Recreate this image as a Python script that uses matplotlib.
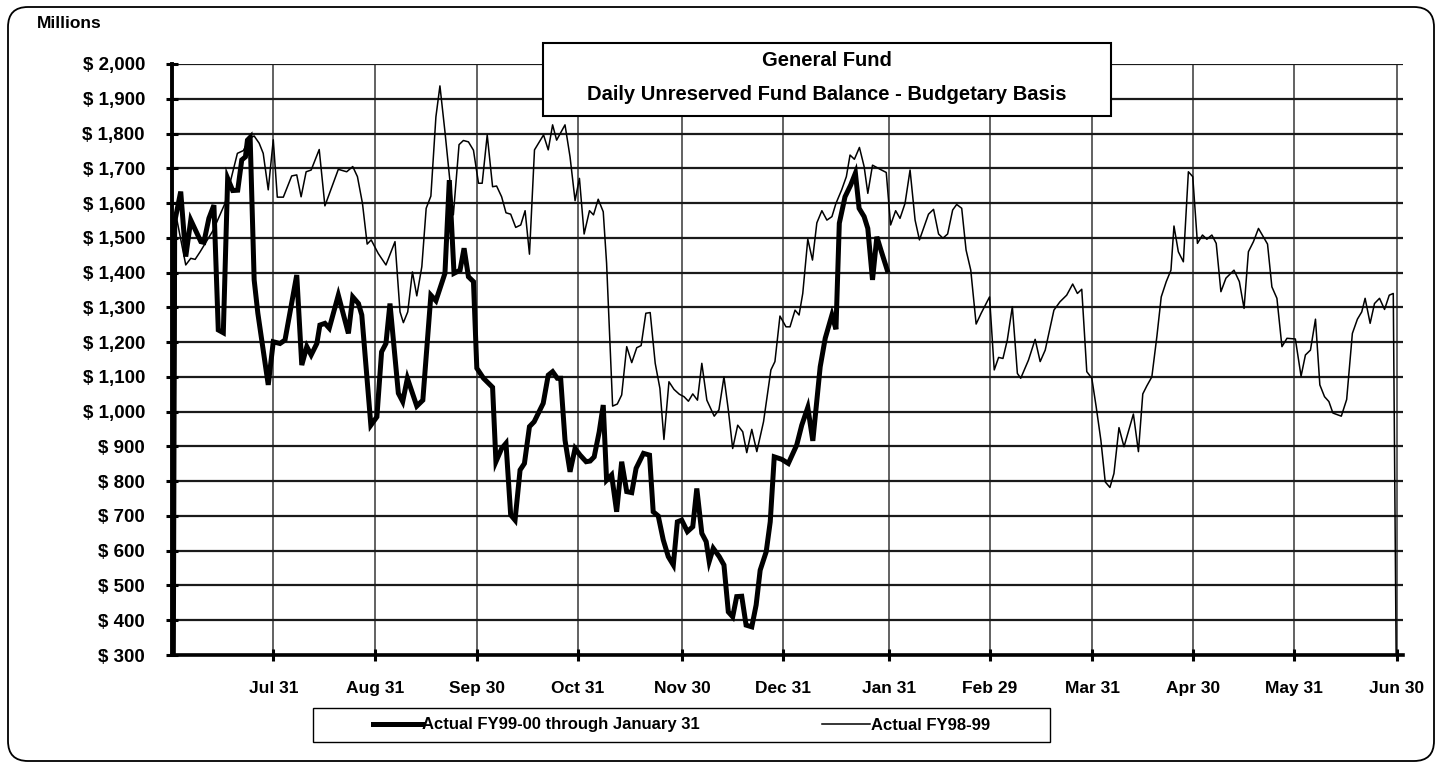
import matplotlib
matplotlib.use("Agg")
import matplotlib.pyplot as plt
from matplotlib.patches import FancyBboxPatch, Rectangle
from matplotlib.transforms import IdentityTransform

plt.rcParams['font.family'] = ['Liberation Sans Narrow', 'Liberation Sans', 'DejaVu Sans']
plt.rcParams['font.weight'] = 'bold'

# days since Jul 1 and balance in $ millions
fy00_days = [0.0, 0.5, 2.3, 3.8, 5.3, 8.3, 9.2, 10.7, 12.2, 13.5, 15.0, 16.3, 17.8, 19.3,
             20.5, 21.6, 22.2, 23.0, 24.2, 25.3, 28.4, 29.9, 31.9, 33.4, 36.9, 38.4, 39.9,
             41.2, 42.9, 43.8, 45.3, 46.6, 49.3, 52.3, 53.6, 55.3, 56.3, 59.0, 60.8, 62.2,
             63.5, 64.7, 67.2, 68.5, 69.9, 72.7, 74.5, 76.9, 78.4, 81.1, 82.4, 83.8, 85.6,
             86.8, 88.1, 89.6, 90.6, 92.6, 95.3, 96.3, 98.0, 99.3, 100.7, 102.0, 103.5,
             104.8, 106.3, 107.7, 110.4, 111.9, 113.2, 114.6, 115.6, 116.9, 118.4, 119.9,
             121.4, 123.2, 124.4, 125.6, 127.1, 128.3, 129.3, 130.8, 132.3, 133.8, 135.3,
             136.8, 138.1, 140.3, 142.1, 143.2, 144.7, 146.2, 147.7, 149.2, 150.4, 151.7,
             153.4, 155.0, 156.2, 157.7, 159.0, 159.9, 161.1, 162.9, 164.3, 165.6, 166.9,
             168.1, 169.6, 170.9, 172.6, 173.9, 175.1, 176.9, 178.1, 179.3, 181.5, 183.5,
             186.0, 187.5, 189.3, 190.8, 193.0, 194.5, 196.5, 197.7, 198.7, 200.4, 202.1,
             203.5, 204.6, 206.1, 207.2, 208.6, 209.9, 211.1, 213.0]
fy00_values = [0, 1546, 1633, 1446, 1551, 1489, 1487, 1556, 1594, 1235, 1227, 1671, 1636, 1637,
               1724, 1733, 1781, 1789, 1379, 1283, 1077, 1201, 1196, 1206, 1393, 1134, 1187,
               1163, 1196, 1249, 1254, 1240, 1335, 1225, 1330, 1311, 1278, 961, 985, 1172,
               1196, 1311, 1053, 1029, 1096, 1016, 1033, 1335, 1319, 1398, 1666, 1398, 1407,
               1470, 1388, 1374, 1125, 1096, 1070, 856, 894, 909, 703, 688, 832,
               851, 957, 971, 1024, 1105, 1115, 1096, 1096, 918, 827, 894,
               875, 856, 858, 870, 942, 1019, 803, 818, 712, 856, 770,
               767, 837, 880, 875, 712, 700, 631, 583, 559, 683, 688,
               655, 669, 779, 650, 626, 569, 607, 583, 559, 424, 410,
               468, 469, 386, 381, 444, 544, 597, 683, 870, 863, 851,
               904, 961, 1012, 916, 1129, 1211, 1278, 1237, 1542, 1618, 1652,
               1686, 1585, 1561, 1527, 1379, 1503, 1465, 1407]

fy99_days = [0.0, 1.0, 3.8, 5.3, 6.6, 8.1, 12.0, 15.5, 19.2, 21.0, 22.8, 24.2, 25.7, 26.9,
             28.4, 29.9, 31.1, 32.9, 35.4, 36.9, 38.2, 39.7, 41.2, 43.6, 45.3, 49.3, 51.8,
             53.6, 55.0, 56.5, 57.9, 59.1, 61.2, 63.5, 66.2, 67.7, 68.7, 70.0, 71.4, 72.7,
             74.2, 75.5, 76.9, 78.4, 79.6, 81.1, 83.6, 85.3, 86.6, 88.1, 89.6, 91.1, 92.2,
             93.7, 95.3, 96.5, 98.0, 99.3, 100.7, 102.2, 103.7, 105.0, 106.3, 107.8, 110.5,
             111.9, 113.2, 114.4, 116.9, 118.4, 119.9, 121.2, 122.6, 124.2, 125.4, 126.8,
             128.3, 129.3, 131.1, 132.5, 133.8, 135.3, 136.8, 138.3, 139.6, 141.0, 142.3,
             143.8, 145.2, 146.4, 147.9, 149.4, 151.0, 152.4, 153.7, 155.0, 156.4, 157.7,
             159.2, 161.4, 162.8, 164.3, 165.6, 166.9, 168.4, 169.9, 171.1, 172.6, 174.1,
             176.1, 178.3, 179.5, 181.0, 182.8, 184.0, 185.5, 186.7, 187.8, 189.3, 190.7,
             192.0, 193.5, 195.0, 196.5, 197.7, 199.4, 200.8, 201.9, 203.2, 204.7, 206.1,
             207.2, 208.6, 210.9, 212.7, 214.0, 215.5, 216.8, 218.3, 219.8, 221.3, 222.6,
             224.0, 225.3, 226.8, 228.3, 229.6, 231.0, 232.5, 233.7, 235.2, 236.5, 237.9,
             239.5, 241.0, 243.5, 244.9, 246.2, 247.5, 248.8, 250.3, 251.8, 252.8, 255.1,
             257.1, 258.6, 260.1, 261.6, 262.7, 264.5, 266.5, 268.3, 269.7, 271.0, 272.5,
             274.0, 275.3, 276.7, 278.0, 279.4, 280.6, 282.1, 283.6, 286.4, 287.9, 289.2,
             290.4, 291.9, 293.4, 294.7, 296.2, 297.6, 298.5, 299.8, 301.3, 302.8, 304.1,
             305.5, 307.0, 308.3, 309.8, 311.1, 312.5, 314.0, 316.4, 318.0, 319.4, 320.7,
             322.2, 323.7, 326.4, 327.7, 329.2, 330.7, 332.2, 334.7, 336.4, 337.7, 339.2,
             340.7, 342.0, 343.4, 344.7, 345.9, 348.4, 350.0, 351.7, 353.2, 354.5, 355.5,
             357.0, 358.3, 359.8, 361.3, 362.7, 363.9, 365.0]
fy99_values = [0, 1560, 1422, 1441, 1438, 1460, 1522, 1599, 1743, 1751, 1786, 1793, 1772, 1743,
               1638, 1782, 1617, 1617, 1678, 1681, 1618, 1690, 1695, 1754, 1592, 1697, 1690,
               1705, 1676, 1599, 1482, 1494, 1455, 1422, 1489, 1287, 1256, 1287, 1402, 1333,
               1417, 1585, 1620, 1848, 1937, 1805, 1566, 1768, 1780, 1776, 1752, 1657, 1657,
               1796, 1647, 1649, 1618, 1572, 1568, 1530, 1537, 1578, 1453, 1753, 1796,
               1753, 1825, 1781, 1825, 1733, 1607, 1671, 1511, 1578, 1566, 1611,
               1575, 1427, 1016, 1022, 1048, 1187, 1141, 1184, 1190, 1283, 1285,
               1139, 1067, 920, 1086, 1064, 1050, 1043, 1030, 1051, 1033, 1139,
               1033, 987, 1005, 1100, 1005, 894, 961, 942, 882, 949, 885,
               971, 1120, 1144, 1275, 1244, 1244, 1292, 1278, 1340, 1496, 1436,
               1543, 1578, 1551, 1561, 1599, 1638, 1676, 1738, 1726, 1760, 1705,
               1628, 1709, 1697, 1688, 1537, 1578, 1556, 1599, 1695, 1551, 1494,
               1532, 1568, 1582, 1511, 1499, 1511, 1580, 1596, 1585, 1465, 1407,
               1252, 1283, 1330, 1120, 1156, 1153, 1206, 1302, 1110, 1096, 1148,
               1208, 1144, 1177, 1244, 1292, 1316, 1335, 1367, 1340, 1352, 1115,
               1096, 1014, 918, 798, 782, 822, 954, 899, 993, 885, 1051,
               1074, 1100, 1216, 1330, 1374, 1407, 1534, 1460, 1431, 1690, 1676,
               1484, 1508, 1496, 1508, 1484, 1345, 1384, 1407, 1374, 1297, 1460,
               1489, 1527, 1482, 1359, 1326, 1187, 1211, 1209, 1102, 1163, 1177,
               1266, 1077, 1043, 1029, 996, 987, 1035, 1225, 1266, 1287, 1326,
               1254, 1311, 1326, 1294, 1335, 1340, 0]

month_ticks = [29.9, 60.3, 90.6, 120.8, 151.8, 182.0, 213.5, 243.6, 274.1, 304.2, 334.4, 365.0]
month_labels = ['Jul 31', 'Aug 31', 'Sep 30', 'Oct 31', 'Nov 30', 'Dec 31',
                'Jan 31', 'Feb 29', 'Mar 31', 'Apr 30', 'May 31', 'Jun 30']
y_ticks = list(range(300, 2001, 100))

W, H = 1442, 765
fig = plt.figure(figsize=(W / 100, H / 100), dpi=100)
ax = fig.add_axes([172 / W, 1 - 655 / H, (1403 - 172) / W, 591 / H])

# outer rounded frame
fig.patches.append(FancyBboxPatch((8, 4), 1426, 754, boxstyle="round,pad=0,rounding_size=20",
                                  transform=IdentityTransform(), facecolor='none',
                                  edgecolor='black', linewidth=1.3))

ax.plot(fy99_days, fy99_values, color='black', linewidth=1.1, label='Actual FY98-99', zorder=3)
ax.plot(fy00_days, fy00_values, color='black', linewidth=3.6, solid_joinstyle='miter',
        label='Actual FY99-00 through January 31', zorder=4)

ax.set_xlim(-0.3, 366.8)
ax.set_ylim(300, 2000)
ax.set_yticks(y_ticks)
ax.set_yticklabels([f"$ {v:,}" for v in y_ticks])
ax.set_xticks(month_ticks)
ax.set_xticklabels(month_labels)

for s in ['top', 'right']:
    ax.spines[s].set_visible(False)
ax.spines['left'].set_linewidth(2.8)
ax.spines['bottom'].set_linewidth(2.6)

ax.tick_params(axis='both', direction='inout', length=9, width=2.2)
ax.tick_params(axis='y', pad=15, labelsize=13.5)
ax.tick_params(axis='x', pad=14, labelsize=12.5)

ax.grid(axis='y', color='#1a1a1a', linewidth=1.6)
ax.grid(axis='x', color='#555555', linewidth=1.3)
ax.set_axisbelow(True)

fig.text(37 / W, 1 - 23 / H, 'Millions', fontsize=12.5, ha='left', va='center')

# title box
fig.patches.append(Rectangle((543, H - 116), 568, 73, transform=IdentityTransform(),
                             facecolor='white', edgecolor='black', linewidth=1.5, zorder=5))
fig.text(827 / W, 1 - 61 / H, 'General Fund', fontsize=14.5, ha='center', va='center', zorder=6)
fig.text(827 / W, 1 - 94 / H, 'Daily Unreserved Fund Balance - Budgetary Basis', fontsize=14.5,
         ha='center', va='center', zorder=6)

# legend box
fig.patches.append(Rectangle((313, H - 742), 737, 34, transform=IdentityTransform(),
                             facecolor='white', edgecolor='black', linewidth=1.0, zorder=5))
handles, labels = ax.get_legend_handles_labels()
leg = fig.legend(handles[::-1], labels[::-1], ncol=2, frameon=False, fontsize=12,
                 loc='center left', bbox_to_anchor=(365 / W, 1 - 725 / H),
                 handlelength=2.9, handletextpad=0.05, columnspacing=7.3, borderpad=0)
leg.set_zorder(6)

fig.savefig('out.png', dpi=100)
